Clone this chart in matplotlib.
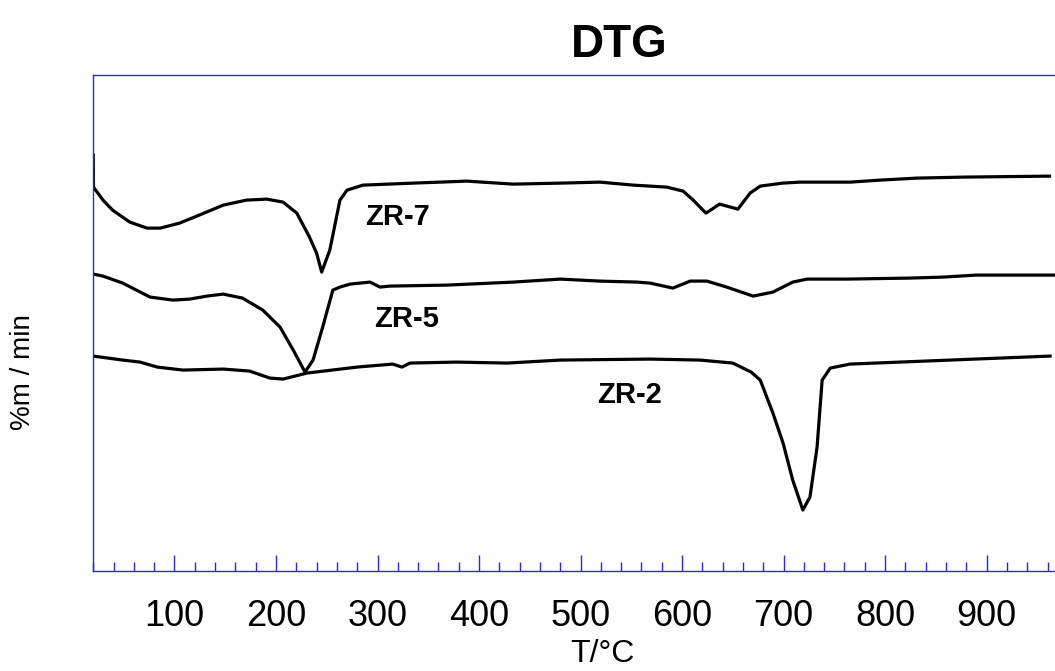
import matplotlib
matplotlib.use('Agg')
import matplotlib.pyplot as plt
from matplotlib.ticker import MultipleLocator, NullLocator

matplotlib.rcParams['font.family'] = ['Liberation Sans', 'DejaVu Sans']

# temperature (deg C) / DTG signal (arbitrary units)
zr7_t = [20, 20.2, 29.6, 39, 56, 73, 86, 105, 122, 148, 171, 191, 207, 220.5, 233, 240, 245,
         253, 263, 270, 285.7, 335, 388, 433.5, 480, 519, 552, 585, 601, 611, 623.5, 637, 655,
         667, 677, 699, 716, 765.5, 795, 831, 876, 962]
zr7_v = [416, 384, 371, 361, 349, 343, 343, 348, 355, 366, 371, 372, 369, 358, 334, 318, 299,
         321, 371, 381, 386, 388, 390, 387, 388, 389, 386, 384, 380, 371, 358, 367, 362,
         378, 385, 388, 389, 389, 391, 393, 394, 395]

zr5_t = [20, 29.6, 49, 76, 98.5, 115, 132, 148, 167, 187, 204, 217, 228.6, 236.5, 246, 256,
         263, 273, 292.6, 302.5, 312, 368.5, 433.5, 480, 519, 556, 568.5, 591, 608, 624.5,
         644, 670, 689.5, 709, 723, 762.5, 824, 857, 889.5, 970]
zr5_v = [297, 295, 288, 274, 271, 272, 275, 277, 273, 261, 244, 221, 199, 211, 244, 281,
         284, 287, 289, 284, 285, 286, 289, 292, 290, 289, 288, 283, 290, 290,
         284, 275, 279, 289, 292, 292, 293, 294, 296, 296]

zr2_t = [20, 49, 66, 83, 108.5, 148, 174, 194, 207, 230.5, 280, 315, 324, 332, 378, 427.5,
         480, 568.5, 617.7, 650, 668, 677, 689.5, 699.5, 709, 719, 726, 733, 738, 746, 765.5,
         864, 962.5]
zr2_v = [215, 211, 209, 204, 201, 202, 200, 193, 192, 198, 204, 207, 204, 208, 209, 208,
         211, 212, 211, 208, 199, 191, 158, 128, 91, 61, 74, 124, 191, 203, 207,
         211, 215]

tick_values = [100, 200, 300, 400, 500, 600, 700, 800, 900, 1000]
tick_labels = ['100', '200', '300', '400', '500', '600', '700', '800', '900', '']

blue = '#2a2ad0'

fig = plt.figure(figsize=(10.55, 6.71), dpi=100)
ax = fig.add_axes([0.0884, 0.149, 0.943, 0.739])

for t, v in [(zr7_t, zr7_v), (zr5_t, zr5_v), (zr2_t, zr2_v)]:
    ax.plot(t, v, color='black', linewidth=2.3, solid_joinstyle='round')

ax.text(288, 346, 'ZR-7', fontsize=21, fontweight='bold', va='baseline')
ax.text(297, 244, 'ZR-5', fontsize=21, fontweight='bold', va='baseline')
ax.text(516, 168, 'ZR-2', fontsize=21, fontweight='bold', va='baseline')

ax.set_xlim(20, 1000)
ax.set_ylim(0, 496)
ax.set_xticks(tick_values)
ax.set_xticklabels(tick_labels)
ax.xaxis.set_minor_locator(MultipleLocator(20))
ax.yaxis.set_major_locator(NullLocator())
ax.tick_params(axis='x', which='major', direction='in', length=11.5, width=1,
               color=blue, labelsize=26, pad=20)
ax.tick_params(axis='x', which='minor', direction='in', length=6.5, width=1, color=blue)
for side in ['left', 'top', 'bottom', 'right']:
    ax.spines[side].set_color(blue)
    ax.spines[side].set_linewidth(1)

fig.text(0.587, 0.965, 'DTG', fontsize=33, fontweight='bold', ha='center', va='top')
fig.text(0.571, 0.013, 'T/°C', fontsize=23, ha='center', va='baseline')
fig.text(0.022, 0.446, '%m / min', fontsize=20, rotation=90, ha='center', va='center')

plt.savefig('out.png', dpi=100)
